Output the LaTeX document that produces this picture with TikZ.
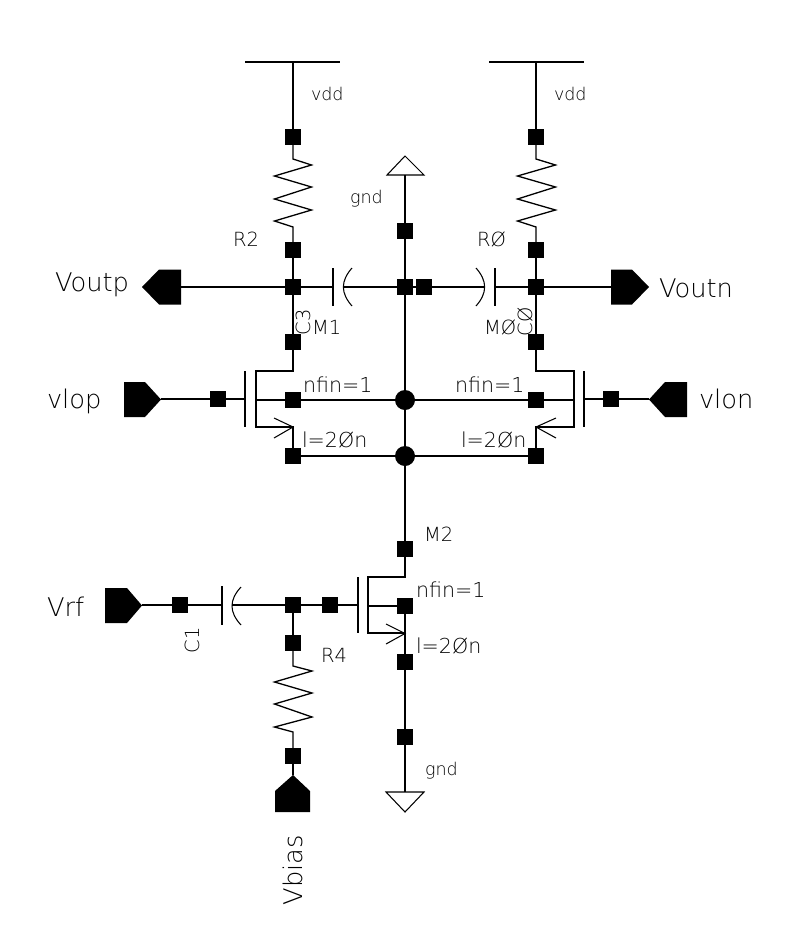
\documentclass[tikz,border=0pt]{standalone}
\usepackage{fontspec}
\setmainfont{DejaVu Sans}[UprightFont={* ExtraLight}]
\newcommand{\tinyfs}{\fontsize{17.5}{18}\selectfont}
\newcommand{\smallfs}{\fontsize{19.5}{20}\selectfont}
\newcommand{\paramfs}{\fontsize{20.6}{21}\selectfont}
\newcommand{\bigfs}{\fontsize{25.7}{26}\selectfont}
\tikzset{
  x=1pt,y=-1pt,
  wire/.style={line width=1.3pt,line cap=butt,line join=miter},
  thinwire/.style={line width=1.05pt},
  sq/.style={rectangle,fill=black,draw=none,minimum size=16pt,inner sep=0pt,outer sep=0pt},
  dotnode/.style={circle,fill=black,draw=none,minimum size=20pt,inner sep=0pt,outer sep=0pt},
  solidpin/.style={fill=black,draw=none},
  lbl/.style={anchor=base west,inner sep=0pt,outer sep=0pt,font=\smallfs},
  paramlbl/.style={anchor=base west,inner sep=0pt,outer sep=0pt,font=\paramfs},
  tinylbl/.style={anchor=base west,inner sep=0pt,outer sep=0pt,font=\tinyfs},
  biglbl/.style={anchor=base west,inner sep=0pt,outer sep=0pt,font=\bigfs},
  rotlbl/.style={anchor=center,rotate=90,inner sep=0pt,outer sep=0pt,font=\smallfs},
}
% pin shapes: tip, shoulder, back x and y-centre
\newcommand{\pinshape}[4]{\fill[solidpin] (#1,#4) -- (#2,#4-17.5) -- (#3,#4-17.5) -- (#3,#4+17.5) -- (#2,#4+17.5) -- cycle;}
\begin{document}
\begin{tikzpicture}
\useasboundingbox (0,0) rectangle (800,948);
\fill[white] (0,0) rectangle (800,948);

% junction squares
\foreach \n/\px/\py in {
 a1/293/137, a2/293/250, a3/293/287, a4/293/342, a5/293/400, a6/293/456,
 b1/536/137, b2/536/250, b3/536/287, b4/536/342, b5/536/400, b6/536/456,
 c1/405/231, c2/405/287, c3/424/287,
 g1/218/399, g2/611/399,
 m1/405/549, m2/405/606, m3/405/662, m4/405/737,
 d1/180/605, d2/293/605, d3/330/605, d4/293/643, d5/293/756}
 {\node[sq] (\n) at (\px,\py) {};}
\node[dotnode] (j1) at (405,400) {};
\node[dotnode] (j2) at (405,456) {};

% free-end coordinates
\coordinate (vddL) at (293,62);
\coordinate (vddR) at (536,62);
\coordinate (gndT) at (405,175);
\coordinate (gndB) at (405,792);
\coordinate (voutpP) at (181,287);
\coordinate (voutnP) at (611,287);
\coordinate (vlopP) at (161,399);
\coordinate (vlonP) at (649,399);
\coordinate (vrfP) at (142,605);
\coordinate (vbiasP) at (293,775);
\coordinate (capL1) at (333,287);
\coordinate (capL2) at (343,287);
\coordinate (capR1) at (495,287);
\coordinate (capR2) at (484,287);
\coordinate (capV1) at (222,605);
\coordinate (capV2) at (232,605);

% supply bars
\draw[wire] (245,62) -- (340,62);
\draw[wire] (489,62) -- (584,62);
\draw[wire] (vddL) -- (a1);
\draw[wire] (vddR) -- (b1);

% resistors
\draw[wire] (a1) -- (293,159) -- (311.5,165) -- (274.5,176) -- (311.5,187) -- (274.5,199) -- (311.5,210) -- (274.5,221) -- (293,227) -- (a2);
\draw[wire] (b1) -- (536,159) -- (555.5,165) -- (517.5,176) -- (555.5,187) -- (517.5,199) -- (555.5,210) -- (517.5,221) -- (536,227) -- (b2);
\draw[wire] (d4) -- (293,666) -- (312,671) -- (274.5,682) -- (312,693) -- (274.5,704) -- (312,717) -- (274.5,727) -- (293,732) -- (d5);

% verticals
\draw[wire] (a2) -- (a3) -- (a4);
\draw[wire] (b2) -- (b3) -- (b4);
\draw[wire] (gndT) -- (c1);
\draw[wire] (c1) -- (c2) -- (j1) -- (j2) -- (m1);
\draw[wire] (d2) -- (d4);
\draw[wire] (d5) -- (vbiasP);
\draw[wire] (m2) -- (405,633);
\draw[wire] (405,633) -- (m3) -- (m4) -- (gndB);

% horizontal nets
\draw[wire] (voutpP) -- (a3) -- (capL1);
\draw[wire] (capL2) -- (c2) -- (c3) -- (capR2);
\draw[wire] (capR1) -- (b3) -- (voutnP);
\draw[wire] (vrfP) -- (d1) -- (capV1);
\draw[wire] (capV2) -- (d2) -- (d3) -- (358,605);

% capacitors
\draw[wire] (333,268) -- (333,306);
\draw[thinwire] (352,268) .. controls (340.5,281) and (340.5,293) .. (352,306);
\draw[wire] (495,268) -- (495,306);
\draw[thinwire] (476,268) .. controls (487.5,281) and (487.5,293) .. (476,306);
\draw[wire] (222,586) -- (222,625);
\draw[thinwire] (241,587) .. controls (229,600) and (229,612) .. (241,625);

% M1
\draw[wire] (a4) -- (293,371) -- (256,371) -- (256,427) -- (293,427) -- (a6);
\draw[wire] (245,371) -- (245,427);
\draw[wire] (vlopP) -- (g1) -- (245,399);
\draw[wire] (256,400) -- (a5) -- (j1);
\draw[thinwire] (274,418) -- (293,427) -- (274,438);

% M0
\draw[wire] (b4) -- (536,371) -- (574,371) -- (574,427) -- (536,427) -- (b6);
\draw[wire] (584,371) -- (584,427);
\draw[wire] (vlonP) -- (g2) -- (584,399);
\draw[wire] (574,400) -- (b5) -- (j1);
\draw[thinwire] (556,418) -- (536,427) -- (556,438);

% tail net
\draw[wire] (a6) -- (j2) -- (b6);

% M2
\draw[wire] (m1) -- (405,577) -- (368,577) -- (368,633) -- (405,633);
\draw[wire] (358,577) -- (358,633);
\draw[wire] (368,606) -- (m2);
\draw[thinwire] (386,624) -- (405,633.5) -- (386,644);

% ground symbols
\draw[thinwire] (387,175) -- (405,156) -- (424,175) -- cycle;
\draw[thinwire] (386,792) -- (424,792) -- (405,812) -- cycle;

% solid pins
\pinshape{142}{159}{181}{287}
\pinshape{649}{632}{611}{287}
\pinshape{161}{145}{124}{399.5}
\pinshape{649}{665}{687}{399.5}
\pinshape{142}{127}{105}{605.5}
\fill[solidpin] (293,775) -- (310,791) -- (310,812) -- (275,812) -- (275,791) -- cycle;

% labels
\node[biglbl] (tVoutp) at (55,291) {Voutp};
\node[biglbl] (tVoutn) at (659,297) {Voutn};
\node[biglbl] (tVlop) at (47,408) {vlop};
\node[biglbl] (tVlon) at (699,408) {vlon};
\node[biglbl] (tVrf) at (47,616) {Vrf};
\node[anchor=center,rotate=90,inner sep=0pt,font=\bigfs] (tVbias) at (293,870) {Vbias};
\node[tinylbl] (tvdd1) at (311,100) {vdd};
\node[tinylbl] (tvdd2) at (554,100) {vdd};
\node[tinylbl] (tgnd1) at (350,203) {gnd};
\node[tinylbl] (tgnd2) at (425,775) {gnd};
\node[lbl] (tR2) at (233,246) {R2};
\node[lbl] (tR0) at (477,246) {RØ};
\node[lbl] (tR4) at (321,662) {R4};
\node[lbl] (tM1) at (312,334) {M1};
\node[lbl] (tM0) at (484,334) {MØ};
\node[lbl] (tM2) at (424,541) {M2};
\node[rotlbl] (tC3) at (303,322) {C3};
\node[rotlbl] (tC0) at (525,322) {CØ};
\node[rotlbl] (tC1) at (192,640) {C1};
\node[paramlbl] (tnf1) at (303,392) {nfin=1};
\node[paramlbl] (tnf0) at (455,392) {nfin=1};
\node[paramlbl] (tnf2) at (416,597) {nfin=1};
\node[paramlbl] (tl1) at (302,447) {l=2Øn};
\node[paramlbl] (tl0) at (461,447) {l=2Øn};
\node[paramlbl] (tl2) at (416,653) {l=2Øn};
\end{tikzpicture}
\end{document}
